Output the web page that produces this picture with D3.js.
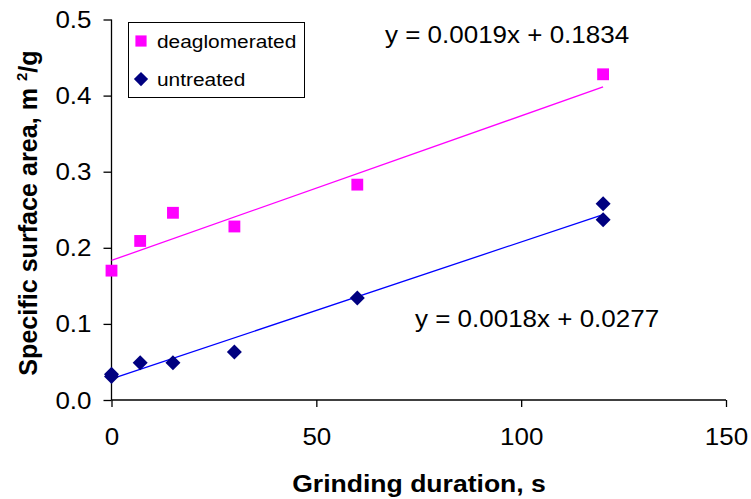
<!DOCTYPE html>
<html><head><meta charset="utf-8">
<script src="https://cdn.jsdelivr.net/npm/d3@7"></script>
<style>body{margin:0;background:#fff}svg{display:block}text{font-family:"Liberation Sans",Arial,sans-serif}</style>
</head><body>
<script>
const deaglX = [0, 7, 15, 30, 60, 120];
const deaglY = [0.170, 0.209, 0.246, 0.228, 0.283, 0.428];
const untrX = [0, 0, 7, 15, 30, 60, 120, 120];
const untrY = [0.031, 0.034, 0.049, 0.049, 0.063, 0.134, 0.258, 0.237];
const fitDeagl = {slope: 0.0019, intercept: 0.1834, label: "y = 0.0019x + 0.1834"};
const fitUntr = {slope: 0.0018, intercept: 0.0277, label: "y = 0.0018x + 0.0277"};
const xTicks = [0, 50, 100, 150];
const yTicks = [0, 0.1, 0.2, 0.3, 0.4, 0.5];
const legendNames = ["deaglomerated", "untreated"];

const W = 751, H = 499;
const SX = 1.13; // horizontal stretch of the reference text
const svg = d3.select("body").append("svg").attr("width", W).attr("height", H);
const x = d3.scaleLinear().domain([0, 150]).range([111.5, 726]);
const y = d3.scaleLinear().domain([0, 0.5]).range([400, 19.5]);

function stretchText(sel) {
  sel.each(function() {
    const t = d3.select(this);
    const tx = +t.attr("x") || 0, ty = +t.attr("y") || 0;
    t.attr("x", 0).attr("y", 0).attr("transform", `translate(${tx},${ty}) scale(${SX},1)`);
  });
}

const gx = svg.append("g").attr("transform", `translate(0,${y(0)})`)
  .call(d3.axisBottom(x).tickValues(xTicks).tickSize(7).tickFormat(d3.format("d")));
const gy = svg.append("g").attr("transform", `translate(${x(0)},0)`)
  .call(d3.axisLeft(y).tickValues(yTicks).tickSize(8).tickFormat(d3.format(".1f")));
[gx, gy].forEach(g => {
  g.selectAll("path.domain").attr("stroke", "#000").attr("stroke-width", 1.3);
  g.selectAll(".tick line").attr("stroke", "#000").attr("stroke-width", 1.3);
  g.selectAll("text").attr("font-size", 23).attr("font-family", "Liberation Sans, Arial, sans-serif").attr("fill", "#000");
});
gx.selectAll(".tick text").attr("y", 45).attr("dy", 0);
gy.selectAll(".tick text").attr("x", -20).attr("dy", "0.35em");
stretchText(gx.selectAll(".tick text"));
stretchText(gy.selectAll(".tick text"));
gx.select("path.domain").attr("d", `M${x(0)},0H${x(150)}`);
gy.select("path.domain").attr("d", `M0,${y(0)}V${y(0.5)}`);

// trend lines
function fitLine(f, color) {
  svg.append("line")
    .attr("x1", x(0)).attr("y1", y(f.intercept))
    .attr("x2", x(120)).attr("y2", y(f.intercept + f.slope * 120))
    .attr("stroke", color).attr("stroke-width", 1.3);
}
fitLine(fitDeagl, "#ff00ff");
fitLine(fitUntr, "#0000ff");

const sq = d3.symbol().type(d3.symbolSquare).size(140);
const dmPath = "M0,-7.5L7.5,0L0,7.5L-7.5,0Z";
svg.append("g").selectAll("path").data(deaglX.map((d, i) => [d, deaglY[i]])).join("path")
  .attr("d", sq).attr("transform", d => `translate(${x(d[0])},${y(d[1])})`).attr("fill", "#ff00ff");
svg.append("g").selectAll("path").data(untrX.map((d, i) => [d, untrY[i]])).join("path")
  .attr("d", dmPath).attr("transform", d => `translate(${x(d[0])},${y(d[1])})`).attr("fill", "#000080");

// equations
const e1 = svg.append("text").attr("x", 385).attr("y", 43).attr("font-size", 23).text(fitDeagl.label);
const e2 = svg.append("text").attr("x", 415).attr("y", 327).attr("font-size", 23).text(fitUntr.label);
stretchText(e1); stretchText(e2);

// legend
const lg = svg.append("g");
lg.append("rect").attr("x", 128.5).attr("y", 22.5).attr("width", 176).attr("height", 75)
  .attr("fill", "#fff").attr("stroke", "#000").attr("stroke-width", 1);
lg.append("path").attr("d", d3.symbol().type(d3.symbolSquare).size(125)).attr("transform", "translate(141,41)").attr("fill", "#ff00ff");
lg.append("path").attr("d", dmPath).attr("transform", "translate(141,79) scale(0.95)").attr("fill", "#000080");
const l1 = lg.append("text").attr("x", 157).attr("y", 48).attr("font-size", 18.5).text(legendNames[0]);
const l2 = lg.append("text").attr("x", 157).attr("y", 86).attr("font-size", 18.5).text(legendNames[1]);
stretchText(l1); stretchText(l2);

// axis titles
const xt = svg.append("text").attr("x", 419).attr("y", 492).attr("text-anchor", "middle")
  .attr("font-size", 23.5).attr("font-weight", "bold").text("Grinding duration, s");
stretchText(xt);
const yt = svg.append("text").attr("transform", `translate(37,213) rotate(-90) scale(1.07,1.08)`)
  .attr("text-anchor", "middle").attr("font-size", 23.5).attr("font-weight", "bold");
yt.append("tspan").text("Specific surface area, m ");
yt.append("tspan").attr("font-size", 14).attr("dy", -9).text("2");
yt.append("tspan").attr("dy", 9).text("/g");
</script>
</body></html>
